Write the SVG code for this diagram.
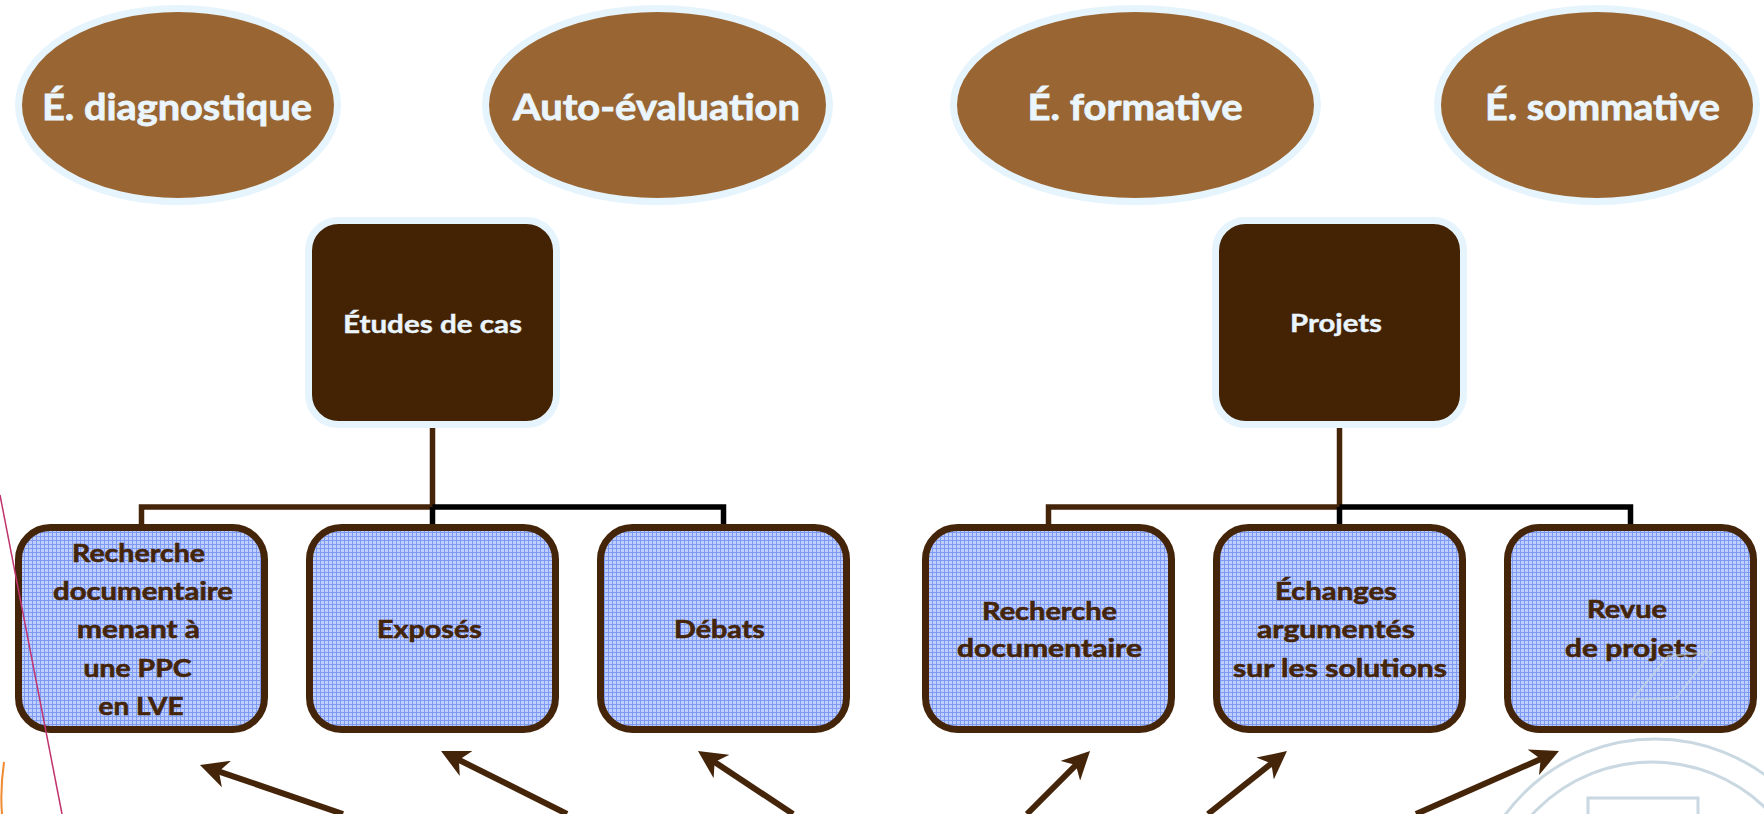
<svg xmlns="http://www.w3.org/2000/svg" width="1764" height="814" viewBox="0 0 1764 814">
  <defs>
    <style>
      .oval { fill: #996633; stroke: #e6f4fd; stroke-width: 7; }
      .oval-label { font-family: "Lato", "Open Sans", sans-serif; font-weight: bold; font-size: 37px; fill: #eaf5fd; stroke: #eaf5fd; stroke-width: 0.8; text-anchor: middle; }
      .head { fill: #432304; stroke: #e6f4fd; stroke-width: 7; }
      .head-label { font-family: "Lato", "Open Sans", sans-serif; font-weight: bold; font-size: 25px; fill: #eaf5fd; stroke: #eaf5fd; stroke-width: 0.4; text-anchor: middle; }
      .item { fill: url(#grid); stroke: #45250a; stroke-width: 7; }
      .item-label { font-family: "Lato", "Open Sans", sans-serif; font-weight: bold; font-size: 25px; fill: #45250a; stroke: #45250a; stroke-width: 0.6; text-anchor: middle; }
      .link-brown { fill: none; stroke: #45250a; stroke-width: 5.5; }
      .link-black { fill: none; stroke: #000000; stroke-width: 5.5; }
      .pointer { fill: none; stroke: #45250a; stroke-width: 6; marker-end: url(#tip); }
      .mark { fill: none; stroke: #c9d8e1; stroke-width: 3; }
    </style>
    <pattern id="grid" width="4" height="4" patternUnits="userSpaceOnUse">
      <rect width="4" height="4" fill="#bfcefb"/>
      <rect width="4" height="1" fill="#7d9bf4"/>
      <rect width="1" height="4" fill="#7d9bf4"/>
    </pattern>
    <marker id="tip" viewBox="0 0 28 28" refX="10" refY="14" markerWidth="28" markerHeight="28" markerUnits="userSpaceOnUse" orient="auto">
      <path d="M28,14 L0,0 L8,14 L0,28 Z" fill="#45250a"/>
    </marker>
  </defs>

  <rect width="1764" height="814" fill="#ffffff"/>

  <!-- page decorations behind the chart -->
  <g id="decor">
    <path d="M4,762 Q0,790 2,814" fill="none" stroke="#f08a30" stroke-width="2"/>
    <circle class="mark" cx="1655" cy="925" r="186"/>
    <circle class="mark" cx="1652" cy="925" r="163"/>
    <rect class="mark" x="1588" y="798" width="110" height="30"/>
  </g>

  <!-- connectors -->
  <g id="connectors">
    <path class="link-brown" d="M432.5,428 V507 H141.5 V524"/>
    <path class="link-black" d="M432.5,507 H723.5 V524 M432.5,507 V524"/>
    <path class="link-brown" d="M1339.5,428 V507 H1048.5 V524"/>
    <path class="link-black" d="M1339.5,507 H1630.5 V524 M1339.5,507 V524"/>

    <line class="pointer" x1="343" y1="814" x2="217" y2="770.8"/>
    <line class="pointer" x1="567" y1="814" x2="457.1" y2="759"/>
    <line class="pointer" x1="793" y1="814" x2="713" y2="761"/>
    <line class="pointer" x1="1027" y1="814" x2="1077.3" y2="763.7"/>
    <line class="pointer" x1="1208" y1="814" x2="1272.9" y2="762.3"/>
    <line class="pointer" x1="1416" y1="814" x2="1542.5" y2="758.3"/>
  </g>

  <!-- evaluation types -->
  <g id="eval-diagnostique">
    <ellipse class="oval" cx="178" cy="105" rx="159.5" ry="96.5"/>
    <text class="oval-label" x="177" y="120" textLength="270" lengthAdjust="spacingAndGlyphs">É. diagnostique</text>
  </g>
  <g id="eval-auto">
    <ellipse class="oval" cx="657.5" cy="105" rx="172" ry="96.5"/>
    <text class="oval-label" x="656.5" y="120" textLength="287" lengthAdjust="spacingAndGlyphs">Auto-évaluation</text>
  </g>
  <g id="eval-formative">
    <ellipse class="oval" cx="1135.5" cy="105" rx="182" ry="96.5"/>
    <text class="oval-label" x="1135" y="120" textLength="215" lengthAdjust="spacingAndGlyphs">É. formative</text>
  </g>
  <g id="eval-sommative">
    <ellipse class="oval" cx="1597" cy="105" rx="159.5" ry="96.5"/>
    <text class="oval-label" x="1602.5" y="120" textLength="235" lengthAdjust="spacingAndGlyphs">É. sommative</text>
  </g>

  <!-- methods -->
  <g id="etudes-de-cas">
    <rect class="head" x="308.5" y="220.5" width="248" height="204" rx="30"/>
    <text class="head-label" x="432.5" y="333" textLength="179" lengthAdjust="spacingAndGlyphs">Études de cas</text>
  </g>
  <g id="projets">
    <rect class="head" x="1215.5" y="220.5" width="248" height="204" rx="30"/>
    <text class="head-label" x="1336" y="332" textLength="92" lengthAdjust="spacingAndGlyphs">Projets</text>
  </g>

  <!-- activities -->
  <g id="recherche-ppc">
    <rect class="item" x="18.5" y="527.5" width="246" height="202" rx="32"/>
    <line x1="0" y1="495" x2="62" y2="814" stroke="#c0336e" stroke-width="1.5"/>
    <text class="item-label" x="138.5" y="562" textLength="133" lengthAdjust="spacingAndGlyphs">Recherche</text>
    <text class="item-label" x="143" y="600" textLength="180" lengthAdjust="spacingAndGlyphs">documentaire</text>
    <text class="item-label" x="138.5" y="638" textLength="123" lengthAdjust="spacingAndGlyphs">menant à</text>
    <text class="item-label" x="137.5" y="677" textLength="108" lengthAdjust="spacingAndGlyphs">une PPC</text>
    <text class="item-label" x="141" y="715" textLength="85" lengthAdjust="spacingAndGlyphs">en LVE</text>
  </g>
  <g id="exposes">
    <rect class="item" x="309.5" y="527.5" width="246" height="202" rx="32"/>
    <text class="item-label" x="429.5" y="638" textLength="105" lengthAdjust="spacingAndGlyphs">Exposés</text>
  </g>
  <g id="debats">
    <rect class="item" x="600.5" y="527.5" width="246" height="202" rx="32"/>
    <text class="item-label" x="719.5" y="638" textLength="91" lengthAdjust="spacingAndGlyphs">Débats</text>
  </g>
  <g id="recherche-doc">
    <rect class="item" x="925.5" y="527.5" width="246" height="202" rx="32"/>
    <text class="item-label" x="1049.5" y="620" textLength="135" lengthAdjust="spacingAndGlyphs">Recherche</text>
    <text class="item-label" x="1049.5" y="657" textLength="185" lengthAdjust="spacingAndGlyphs">documentaire</text>
  </g>
  <g id="echanges">
    <rect class="item" x="1216.5" y="527.5" width="246" height="202" rx="32"/>
    <text class="item-label" x="1336" y="600" textLength="122" lengthAdjust="spacingAndGlyphs">Échanges</text>
    <text class="item-label" x="1336" y="638" textLength="158" lengthAdjust="spacingAndGlyphs">argumentés</text>
    <text class="item-label" x="1340" y="677" textLength="214" lengthAdjust="spacingAndGlyphs">sur les solutions</text>
  </g>
  <g id="revue">
    <rect class="item" x="1507.5" y="527.5" width="246" height="202" rx="32"/>
    <text class="item-label" x="1627" y="618" textLength="80" lengthAdjust="spacingAndGlyphs">Revue</text>
    <text class="item-label" x="1631.5" y="657" textLength="133" lengthAdjust="spacingAndGlyphs">de projets</text>
    <path d="M1632,700 L1668,656 L1712,652 L1676,698 Z" fill="none" stroke="#c9d8e1" stroke-width="2" opacity="0.6"/>
  </g>
</svg>
